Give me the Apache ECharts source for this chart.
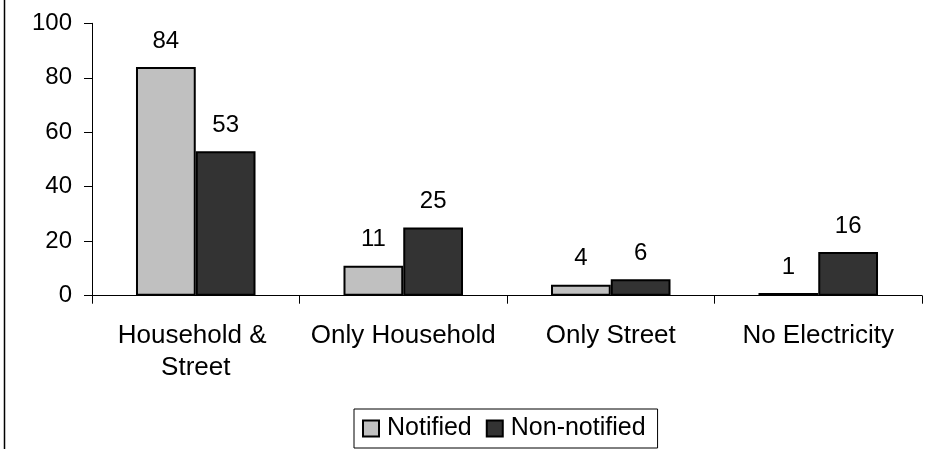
<!DOCTYPE html>
<html>
<head>
<meta charset="utf-8">
<script src="https://cdn.jsdelivr.net/npm/echarts@6/dist/echarts.min.js"></script>
<style>
  html, body { margin: 0; padding: 0; background: #fff; }
  #chart { width: 931px; height: 449px; }
</style>
</head>
<body>
<div id="chart"></div>
<script>
// Electricity access by settlement type
var categories = ['Household & Street', 'Only Household', 'Only Street', 'No Electricity'];
var notified = [84, 11, 4, 1];
var nonNotified = [53, 25, 6, 16];
var yTicks = { min: 0, max: 100, interval: 20 };

var FONT = '"Liberation Sans", Arial, sans-serif';
var chart = echarts.init(document.getElementById('chart'), null, { renderer: 'canvas' });

function barSeries(name, data, color) {
  return {
    name: name,
    type: 'bar',
    data: data,
    barGap: '0%',
    barCategoryGap: '42.4%',
    itemStyle: { color: color, borderColor: '#000', borderWidth: 2 },
    label: {
      show: true,
      position: 'top',
      distance: 14,
      color: '#000',
      fontFamily: FONT,
      fontSize: 24
    }
  };
}

chart.setOption({
  animation: false,
  backgroundColor: '#fff',
  graphic: [{
    type: 'line',
    shape: { x1: 4.5, y1: 0, x2: 4.5, y2: 449 },
    style: { stroke: '#000', lineWidth: 1.5 }
  }],
  grid: { left: 92, right: 9, top: 23.3, bottom: 153.3, containLabel: false },
  legend: {
    left: 354,
    top: 409,
    padding: [7, 12, 7, 8],
    borderColor: '#000',
    borderWidth: 1,
    itemWidth: 16,
    itemHeight: 16,
    itemGap: 14,
    icon: 'rect',
    textStyle: { fontFamily: FONT, fontSize: 25, color: '#000', padding: [0, 0, 0, 3] },
    data: ['Notified', 'Non-notified']
  },
  xAxis: {
    type: 'category',
    data: categories,
    boundaryGap: true,
    axisLine: { lineStyle: { color: '#000', width: 1 } },
    axisTick: { show: true, length: 8, lineStyle: { color: '#000' } },
    axisLabel: {
      color: '#000',
      fontFamily: FONT,
      fontSize: 26,
      lineHeight: 32,
      margin: 24,
      width: 196,
      overflow: 'break',
      interval: 0
    },
    splitLine: { show: false }
  },
  yAxis: {
    type: 'value',
    min: yTicks.min,
    max: yTicks.max,
    interval: yTicks.interval,
    axisLine: { show: true, lineStyle: { color: '#000', width: 1 } },
    axisTick: { show: true, length: 8, lineStyle: { color: '#000' } },
    axisLabel: { color: '#000', fontFamily: FONT, fontSize: 24, margin: 20 },
    splitLine: { show: false }
  },
  series: [
    barSeries('Notified', notified, '#c0c0c0'),
    barSeries('Non-notified', nonNotified, '#333333')
  ]
});
</script>
</body>
</html>
